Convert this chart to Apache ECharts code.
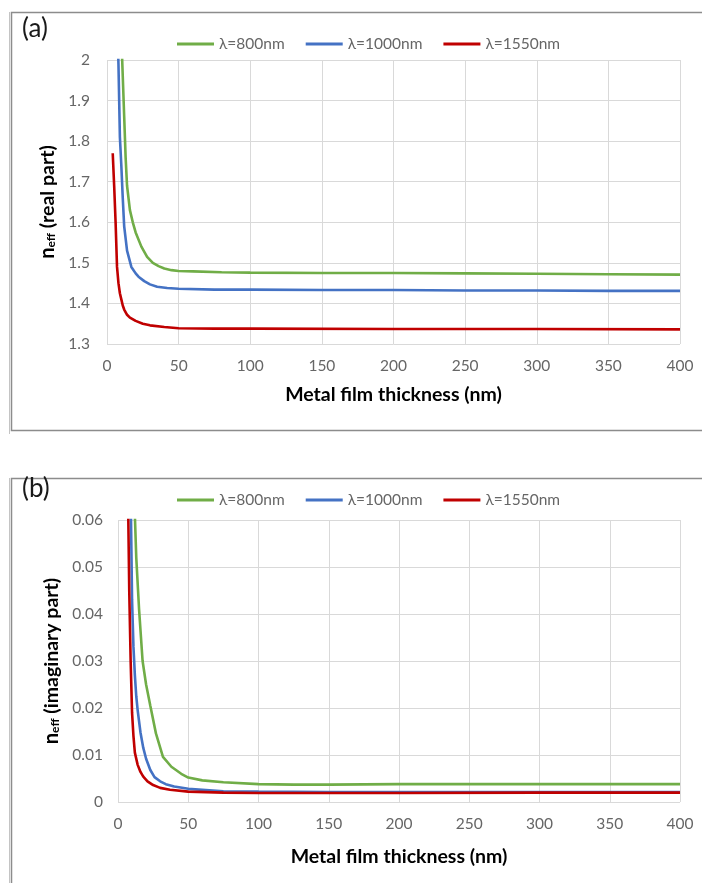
<!DOCTYPE html>
<html>
<head>
<meta charset="utf-8">
<script src="https://cdn.jsdelivr.net/npm/echarts@6/dist/echarts.min.js"></script>
<style>
  html, body { margin: 0; padding: 0; background: #ffffff; }
  #chart { width: 702px; height: 883px; }
</style>
</head>
<body>
<div id="chart"></div>
<script>
// Effective mode index of the guided mode versus metal film thickness (nm)
const wavelengths = ['λ=800nm', 'λ=1000nm', 'λ=1550nm'];
const lineColors = ['#70AD47', '#4472C4', '#C00000'];

const thicknessTicks = [0, 50, 100, 150, 200, 250, 300, 350, 400];
const realTicks = [1.3, 1.4, 1.5, 1.6, 1.7, 1.8, 1.9, 2];
const imagTicks = [0, 0.01, 0.02, 0.03, 0.04, 0.05, 0.06];

// (a) real part of n_eff : [thickness, value]
const real800 = [[6, 2.6], [8, 2.3], [10, 2.06], [12, 1.86], [13, 1.76], [14, 1.69], [16, 1.63],
  [18, 1.60], [20, 1.575], [24, 1.54], [28, 1.515], [32, 1.50], [36, 1.492], [40, 1.486],
  [45, 1.482], [50, 1.480], [60, 1.479], [80, 1.477], [100, 1.476], [150, 1.475], [200, 1.475],
  [250, 1.474], [300, 1.473], [350, 1.472], [400, 1.471]];
const real1000 = [[5, 2.5], [7, 2.12], [8, 1.99], [9, 1.81], [10, 1.74], [11, 1.66], [12, 1.59],
  [14, 1.53], [17, 1.49], [20, 1.474], [22, 1.466], [26, 1.455], [30, 1.447], [35, 1.441],
  [42, 1.438], [50, 1.436], [75, 1.434], [100, 1.434], [150, 1.433], [200, 1.433], [250, 1.432],
  [300, 1.432], [350, 1.431], [400, 1.431]];
const real1550 = [[4, 1.77], [5, 1.69], [6, 1.60], [7, 1.49], [8, 1.45], [9, 1.425], [10, 1.41],
  [11, 1.395], [12, 1.385], [14, 1.372], [16, 1.365], [20, 1.357], [25, 1.350], [30, 1.346],
  [40, 1.342], [50, 1.339], [75, 1.338], [100, 1.338], [200, 1.337], [300, 1.337], [400, 1.336]];

// (b) imaginary part of n_eff : [thickness, value]
const imag800 = [[8, 0.10], [10, 0.075], [12, 0.061], [13, 0.052], [15, 0.041], [17.5, 0.030],
  [20, 0.025], [23, 0.0205], [27, 0.0146], [32, 0.0096], [38, 0.0075], [45, 0.006], [50, 0.0052],
  [60, 0.0046], [75, 0.0042], [100, 0.0038], [125, 0.0037], [150, 0.0037], [200, 0.0038],
  [250, 0.0038], [300, 0.0038], [350, 0.0038], [400, 0.0038]];
const imag1000 = [[6, 0.10], [8, 0.075], [9, 0.066], [10, 0.043], [11, 0.033], [12, 0.027],
  [13, 0.0225], [14, 0.0195], [16, 0.0148], [18, 0.0115], [20, 0.0092], [23, 0.0068], [26, 0.0053],
  [30, 0.0044], [34, 0.0038], [40, 0.0033], [50, 0.0028], [75, 0.0023], [100, 0.0022],
  [150, 0.0021], [200, 0.0021], [300, 0.0021], [400, 0.0021]];
const imag1550 = [[6, 0.09], [7, 0.068], [8, 0.045], [9, 0.030], [10, 0.019], [11, 0.014],
  [12, 0.0105], [14, 0.0079], [16, 0.0064], [18, 0.0054], [21, 0.0044], [25, 0.0036], [30, 0.0030],
  [37, 0.0026], [50, 0.0022], [75, 0.0020], [100, 0.0019], [150, 0.0019], [200, 0.0019],
  [300, 0.0020], [400, 0.0020]];

const FONT = 'Lato, "Open Sans", "DejaVu Sans", sans-serif';
const tickColor = '#666666';
const gridColor = '#d9d9d9';

function axisRange(ticks) {
  return { min: ticks[0], max: ticks[ticks.length - 1], interval: +(ticks[1] - ticks[0]).toFixed(4) };
}

function xAxisFor(gridIndex, nameGap) {
  const r = axisRange(thicknessTicks);
  return {
    type: 'value', gridIndex, min: r.min, max: r.max, interval: r.interval,
    name: 'Metal film thickness (nm)', nameLocation: 'middle', nameGap,
    nameTextStyle: { fontFamily: FONT, fontSize: 19.5, fontWeight: 'bold', color: '#000' },
    axisLine: { show: false }, axisTick: { show: false },
    axisLabel: { fontFamily: FONT, fontSize: 15.5, color: tickColor, margin: 14 },
    splitLine: { show: true, lineStyle: { color: gridColor, width: 1 } }
  };
}

function yAxisFor(gridIndex, ticks, label, nameGap, margin) {
  const r = axisRange(ticks);
  return {
    type: 'value', gridIndex, min: r.min, max: r.max, interval: r.interval,
    name: '{n|n}{s|eff}{t| ' + label + '}', nameLocation: 'middle', nameGap, nameRotate: 90,
    nameTextStyle: {
      fontFamily: FONT, fontWeight: 'bold', color: '#000',
      rich: {
        n: { fontFamily: FONT, fontSize: 20, fontWeight: 'bold', color: '#000', lineHeight: 24, verticalAlign: 'bottom' },
        s: { fontFamily: FONT, fontSize: 12, fontWeight: 'bold', color: '#000', lineHeight: 24, verticalAlign: 'bottom' },
        t: { fontFamily: FONT, fontSize: 19.5, fontWeight: 'bold', color: '#000', lineHeight: 24, verticalAlign: 'bottom' }
      }
    },
    axisLine: { show: false }, axisTick: { show: false },
    axisLabel: {
      fontFamily: FONT, fontSize: 15.5, color: tickColor, margin,
      formatter: v => String(+v.toFixed(3))
    },
    splitLine: { show: true, lineStyle: { color: gridColor, width: 1 } }
  };
}

function lineSeries(name, data, color, idx) {
  return {
    type: 'line', name, data, xAxisIndex: idx, yAxisIndex: idx,
    showSymbol: false, symbol: 'none', smooth: false, clip: true,
    lineStyle: { color, width: 2.6 }, itemStyle: { color },
    emphasis: { disabled: true }
  };
}

function legendAt(top) {
  return {
    data: wavelengths, left: 172, top, icon: 'rect', itemWidth: 37, itemHeight: 3, itemGap: 21,
    textStyle: { fontFamily: FONT, fontSize: 15.5, color: tickColor }
  };
}

const chart = echarts.init(document.getElementById('chart'), null, { renderer: 'canvas' });
chart.setOption({
  backgroundColor: '#ffffff',
  animation: false,
  legend: [legendAt(31), legendAt(487)],
  grid: [
    { left: 107, top: 60, right: 22, bottom: 883 - 344 },
    { left: 118, top: 520, right: 22, bottom: 883 - 802 }
  ],
  xAxis: [xAxisFor(0, 41), xAxisFor(1, 45)],
  yAxis: [
    yAxisFor(0, realTicks, '(real part)', 47, 17),
    yAxisFor(1, imagTicks, '(imaginary part)', 50, 15)
  ],
  series: [
    lineSeries(wavelengths[0], real800, lineColors[0], 0),
    lineSeries(wavelengths[1], real1000, lineColors[1], 0),
    lineSeries(wavelengths[2], real1550, lineColors[2], 0),
    lineSeries(wavelengths[0], imag800, lineColors[0], 1),
    lineSeries(wavelengths[1], imag1000, lineColors[1], 1),
    lineSeries(wavelengths[2], imag1550, lineColors[2], 1)
  ],
  graphic: [
    // panel frames
    { type: 'rect', silent: true, shape: { x: 11.5, y: 12.5, width: 700, height: 418 },
      style: { fill: null, stroke: '#8c8c8c', lineWidth: 1.5 } },
    { type: 'line', silent: true, shape: { x1: 9.5, y1: 12, x2: 9.5, y2: 434 },
      style: { stroke: '#c4c4c4', lineWidth: 1 } },
    { type: 'rect', silent: true, shape: { x: 11.5, y: 478.5, width: 700, height: 420 },
      style: { fill: null, stroke: '#8c8c8c', lineWidth: 1.5 } },
    { type: 'line', silent: true, shape: { x1: 9.5, y1: 478, x2: 9.5, y2: 883 },
      style: { stroke: '#c4c4c4', lineWidth: 1 } },
    // panel tags
    { type: 'text', silent: true, left: 22, top: 16,
      style: { text: '(a)', font: '26px ' + FONT, fill: '#1a1a1a' } },
    { type: 'text', silent: true, left: 22, top: 476,
      style: { text: '(b)', font: '26px ' + FONT, fill: '#1a1a1a' } }
  ]
});
</script>
</body>
</html>
